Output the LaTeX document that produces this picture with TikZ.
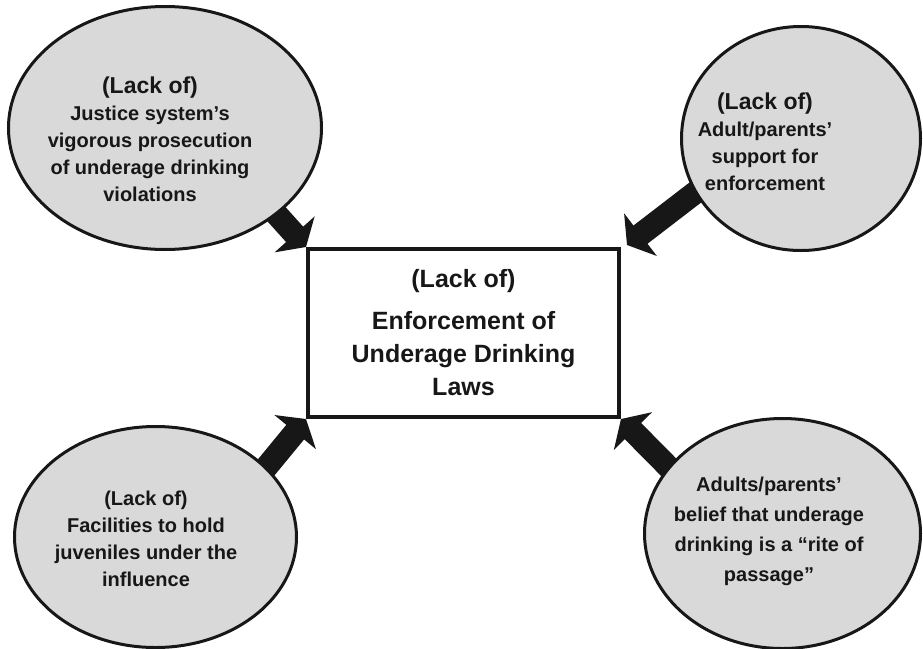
\documentclass[tikz,border=0pt]{standalone}
\usepackage{fontspec}
\setmainfont{Liberation Sans}
\usetikzlibrary{arrows.meta, shapes.geometric, backgrounds}

\definecolor{bubblegray}{gray}{0.85}
\definecolor{inkblack}{gray}{0.09}

\tikzset{
  bubble/.style={ellipse, draw=inkblack, line width=3pt, fill=bubblegray, inner sep=0pt},
  bubbletext/.style={font=\bfseries\fontsize{20}{27}\selectfont, align=center, text=inkblack},
  lawbox/.style={rectangle, draw=inkblack, line width=4pt, minimum width=311pt, minimum height=168pt,
    align=center, font=\bfseries\fontsize{25}{33}\selectfont, text=inkblack},
  bigarrow/.style={line width=23pt, draw=inkblack, -{Triangle[length=17pt, width=53pt]}}
}

\begin{document}
\begin{tikzpicture}[x=1pt, y=-1pt]
  \useasboundingbox (0,0) rectangle (923,648);

  % Central box
  \node[lawbox] (law) at (463.5,333) {(Lack of)\\[9pt] Enforcement of\\ Underage Drinking\\ Laws};

  % Ellipses
  \node[bubble, minimum width=313pt, minimum height=243pt] (justice) at (165,128) {};
  \node[bubble, minimum width=239pt, minimum height=224pt] (parents) at (801,138.5) {};
  \node[bubble, minimum width=282pt, minimum height=221pt] (facility) at (155.5,537) {};
  \node[bubble, minimum width=276pt, minimum height=230pt] (rite) at (782.5,533.5) {};

  % Texts
  \node[bubbletext] (justicetxt) at (150,139.5)
    {{\fontsize{23}{27}\selectfont (Lack of)}\\ Justice system’s\\ vigorous prosecution\\ of underage drinking\\ violations};
  \node[bubbletext] (parentstxt) at (765,141.5)
    {{\fontsize{23}{27}\selectfont (Lack of)}\\ Adult/parents’\\ support for\\ enforcement};
  \node[bubbletext] (facilitytxt) at (146,538.5)
    {(Lack of)\\ Facilities to hold\\ juveniles under the\\ influence};
  \node[bubbletext, font=\bfseries\fontsize{20}{30}\selectfont] (ritetxt) at (769,531)
    {Adults/parents’\\ belief that underage\\ drinking is a “rite of\\ passage”};

  % Arrows
  \coordinate (justicefoot) at (225,157);
  \coordinate (parentsfoot) at (722,172);
  \coordinate (facilityfoot) at (227,515);
  \coordinate (ritefoot) at (708,507);
  \begin{scope}[on background layer]
    \draw[bigarrow] (justicefoot) -- (law.north west);
    \draw[bigarrow] (parentsfoot) -- ([shift={(6,-2)}]law.north east);
    \draw[bigarrow] (facilityfoot) -- (law.south west);
    \draw[bigarrow] (ritefoot) -- (law.south east);
  \end{scope}
\end{tikzpicture}
\end{document}
